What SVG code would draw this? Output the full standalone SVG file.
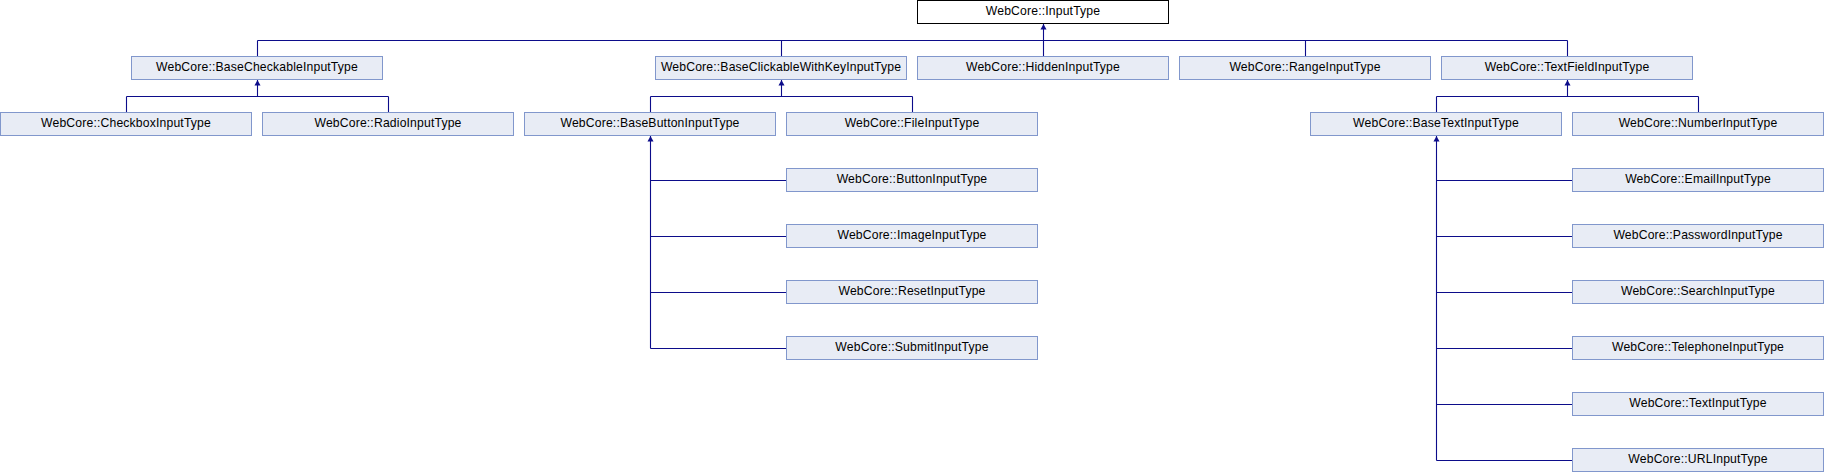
<svg xmlns="http://www.w3.org/2000/svg" xmlns:xlink="http://www.w3.org/1999/xlink" width="1824" height="472" viewBox="0 0 1824 472">
<style>
.node rect{fill:#e8ecf5;stroke:#8197cc;stroke-width:1}
.node.root rect{fill:#ffffff;stroke:#000000}
.node text{font-family:"Liberation Sans",Arial,sans-serif;font-size:12.2px;letter-spacing:0.16px;fill:#000;text-anchor:middle}
.edges path{fill:none;stroke:#0c0c8a;stroke-width:1.1}
.edges use{fill:#0c0c8a;stroke:none}
</style>
<defs>
<path id="arr" d="M0,0 L-3,5.5 L3,5.5 Z"/>
</defs>
<rect width="1824" height="472" fill="#ffffff"/>
<g class="edges" id="connectors">
<path d="M1043.5,24 V40.5 M257.5,40.5 H1567.5 M257.5,40.5 V56 M781.5,40.5 V56 M1043.5,40.5 V56 M1305.5,40.5 V56 M1567.5,40.5 V56"/>
<use xlink:href="#arr" href="#arr" x="1043.5" y="24"/>
<path d="M257.5,80 V96.5 M126.5,96.5 H388.5 M126.5,96.5 V112 M388.5,96.5 V112"/>
<use xlink:href="#arr" href="#arr" x="257.5" y="80"/>
<path d="M781.5,80 V96.5 M650.5,96.5 H912.5 M650.5,96.5 V112 M912.5,96.5 V112"/>
<use xlink:href="#arr" href="#arr" x="781.5" y="80"/>
<path d="M1567.5,80 V96.5 M1436.5,96.5 H1698.5 M1436.5,96.5 V112 M1698.5,96.5 V112"/>
<use xlink:href="#arr" href="#arr" x="1567.5" y="80"/>
<path d="M650.5,136 V348.5 M650.5,180.5 H786 M650.5,236.5 H786 M650.5,292.5 H786 M650.5,348.5 H786"/>
<use xlink:href="#arr" href="#arr" x="650.5" y="136"/>
<path d="M1436.5,136 V460.5 M1436.5,180.5 H1572 M1436.5,236.5 H1572 M1436.5,292.5 H1572 M1436.5,348.5 H1572 M1436.5,404.5 H1572 M1436.5,460.5 H1572"/>
<use xlink:href="#arr" href="#arr" x="1436.5" y="136"/>
</g>
<g id="n-InputType" class="node root" transform="translate(917.5,0.5)"><rect width="251" height="23"/><text x="125.5" y="14.5">WebCore::InputType</text></g>
<g id="n-BaseCheckableInputType" class="node" transform="translate(131.5,56.5)"><rect width="251" height="23"/><text x="125.5" y="14.5">WebCore::BaseCheckableInputType</text></g>
<g id="n-BaseClickableWithKeyInputType" class="node" transform="translate(655.5,56.5)"><rect width="251" height="23"/><text x="125.5" y="14.5">WebCore::BaseClickableWithKeyInputType</text></g>
<g id="n-HiddenInputType" class="node" transform="translate(917.5,56.5)"><rect width="251" height="23"/><text x="125.5" y="14.5">WebCore::HiddenInputType</text></g>
<g id="n-RangeInputType" class="node" transform="translate(1179.5,56.5)"><rect width="251" height="23"/><text x="125.5" y="14.5">WebCore::RangeInputType</text></g>
<g id="n-TextFieldInputType" class="node" transform="translate(1441.5,56.5)"><rect width="251" height="23"/><text x="125.5" y="14.5">WebCore::TextFieldInputType</text></g>
<g id="n-CheckboxInputType" class="node" transform="translate(0.5,112.5)"><rect width="251" height="23"/><text x="125.5" y="14.5">WebCore::CheckboxInputType</text></g>
<g id="n-RadioInputType" class="node" transform="translate(262.5,112.5)"><rect width="251" height="23"/><text x="125.5" y="14.5">WebCore::RadioInputType</text></g>
<g id="n-BaseButtonInputType" class="node" transform="translate(524.5,112.5)"><rect width="251" height="23"/><text x="125.5" y="14.5">WebCore::BaseButtonInputType</text></g>
<g id="n-FileInputType" class="node" transform="translate(786.5,112.5)"><rect width="251" height="23"/><text x="125.5" y="14.5">WebCore::FileInputType</text></g>
<g id="n-BaseTextInputType" class="node" transform="translate(1310.5,112.5)"><rect width="251" height="23"/><text x="125.5" y="14.5">WebCore::BaseTextInputType</text></g>
<g id="n-NumberInputType" class="node" transform="translate(1572.5,112.5)"><rect width="251" height="23"/><text x="125.5" y="14.5">WebCore::NumberInputType</text></g>
<g id="n-ButtonInputType" class="node" transform="translate(786.5,168.5)"><rect width="251" height="23"/><text x="125.5" y="14.5">WebCore::ButtonInputType</text></g>
<g id="n-ImageInputType" class="node" transform="translate(786.5,224.5)"><rect width="251" height="23"/><text x="125.5" y="14.5">WebCore::ImageInputType</text></g>
<g id="n-ResetInputType" class="node" transform="translate(786.5,280.5)"><rect width="251" height="23"/><text x="125.5" y="14.5">WebCore::ResetInputType</text></g>
<g id="n-SubmitInputType" class="node" transform="translate(786.5,336.5)"><rect width="251" height="23"/><text x="125.5" y="14.5">WebCore::SubmitInputType</text></g>
<g id="n-EmailInputType" class="node" transform="translate(1572.5,168.5)"><rect width="251" height="23"/><text x="125.5" y="14.5">WebCore::EmailInputType</text></g>
<g id="n-PasswordInputType" class="node" transform="translate(1572.5,224.5)"><rect width="251" height="23"/><text x="125.5" y="14.5">WebCore::PasswordInputType</text></g>
<g id="n-SearchInputType" class="node" transform="translate(1572.5,280.5)"><rect width="251" height="23"/><text x="125.5" y="14.5">WebCore::SearchInputType</text></g>
<g id="n-TelephoneInputType" class="node" transform="translate(1572.5,336.5)"><rect width="251" height="23"/><text x="125.5" y="14.5">WebCore::TelephoneInputType</text></g>
<g id="n-TextInputType" class="node" transform="translate(1572.5,392.5)"><rect width="251" height="23"/><text x="125.5" y="14.5">WebCore::TextInputType</text></g>
<g id="n-URLInputType" class="node" transform="translate(1572.5,448.5)"><rect width="251" height="23"/><text x="125.5" y="14.5">WebCore::URLInputType</text></g>
</svg>
